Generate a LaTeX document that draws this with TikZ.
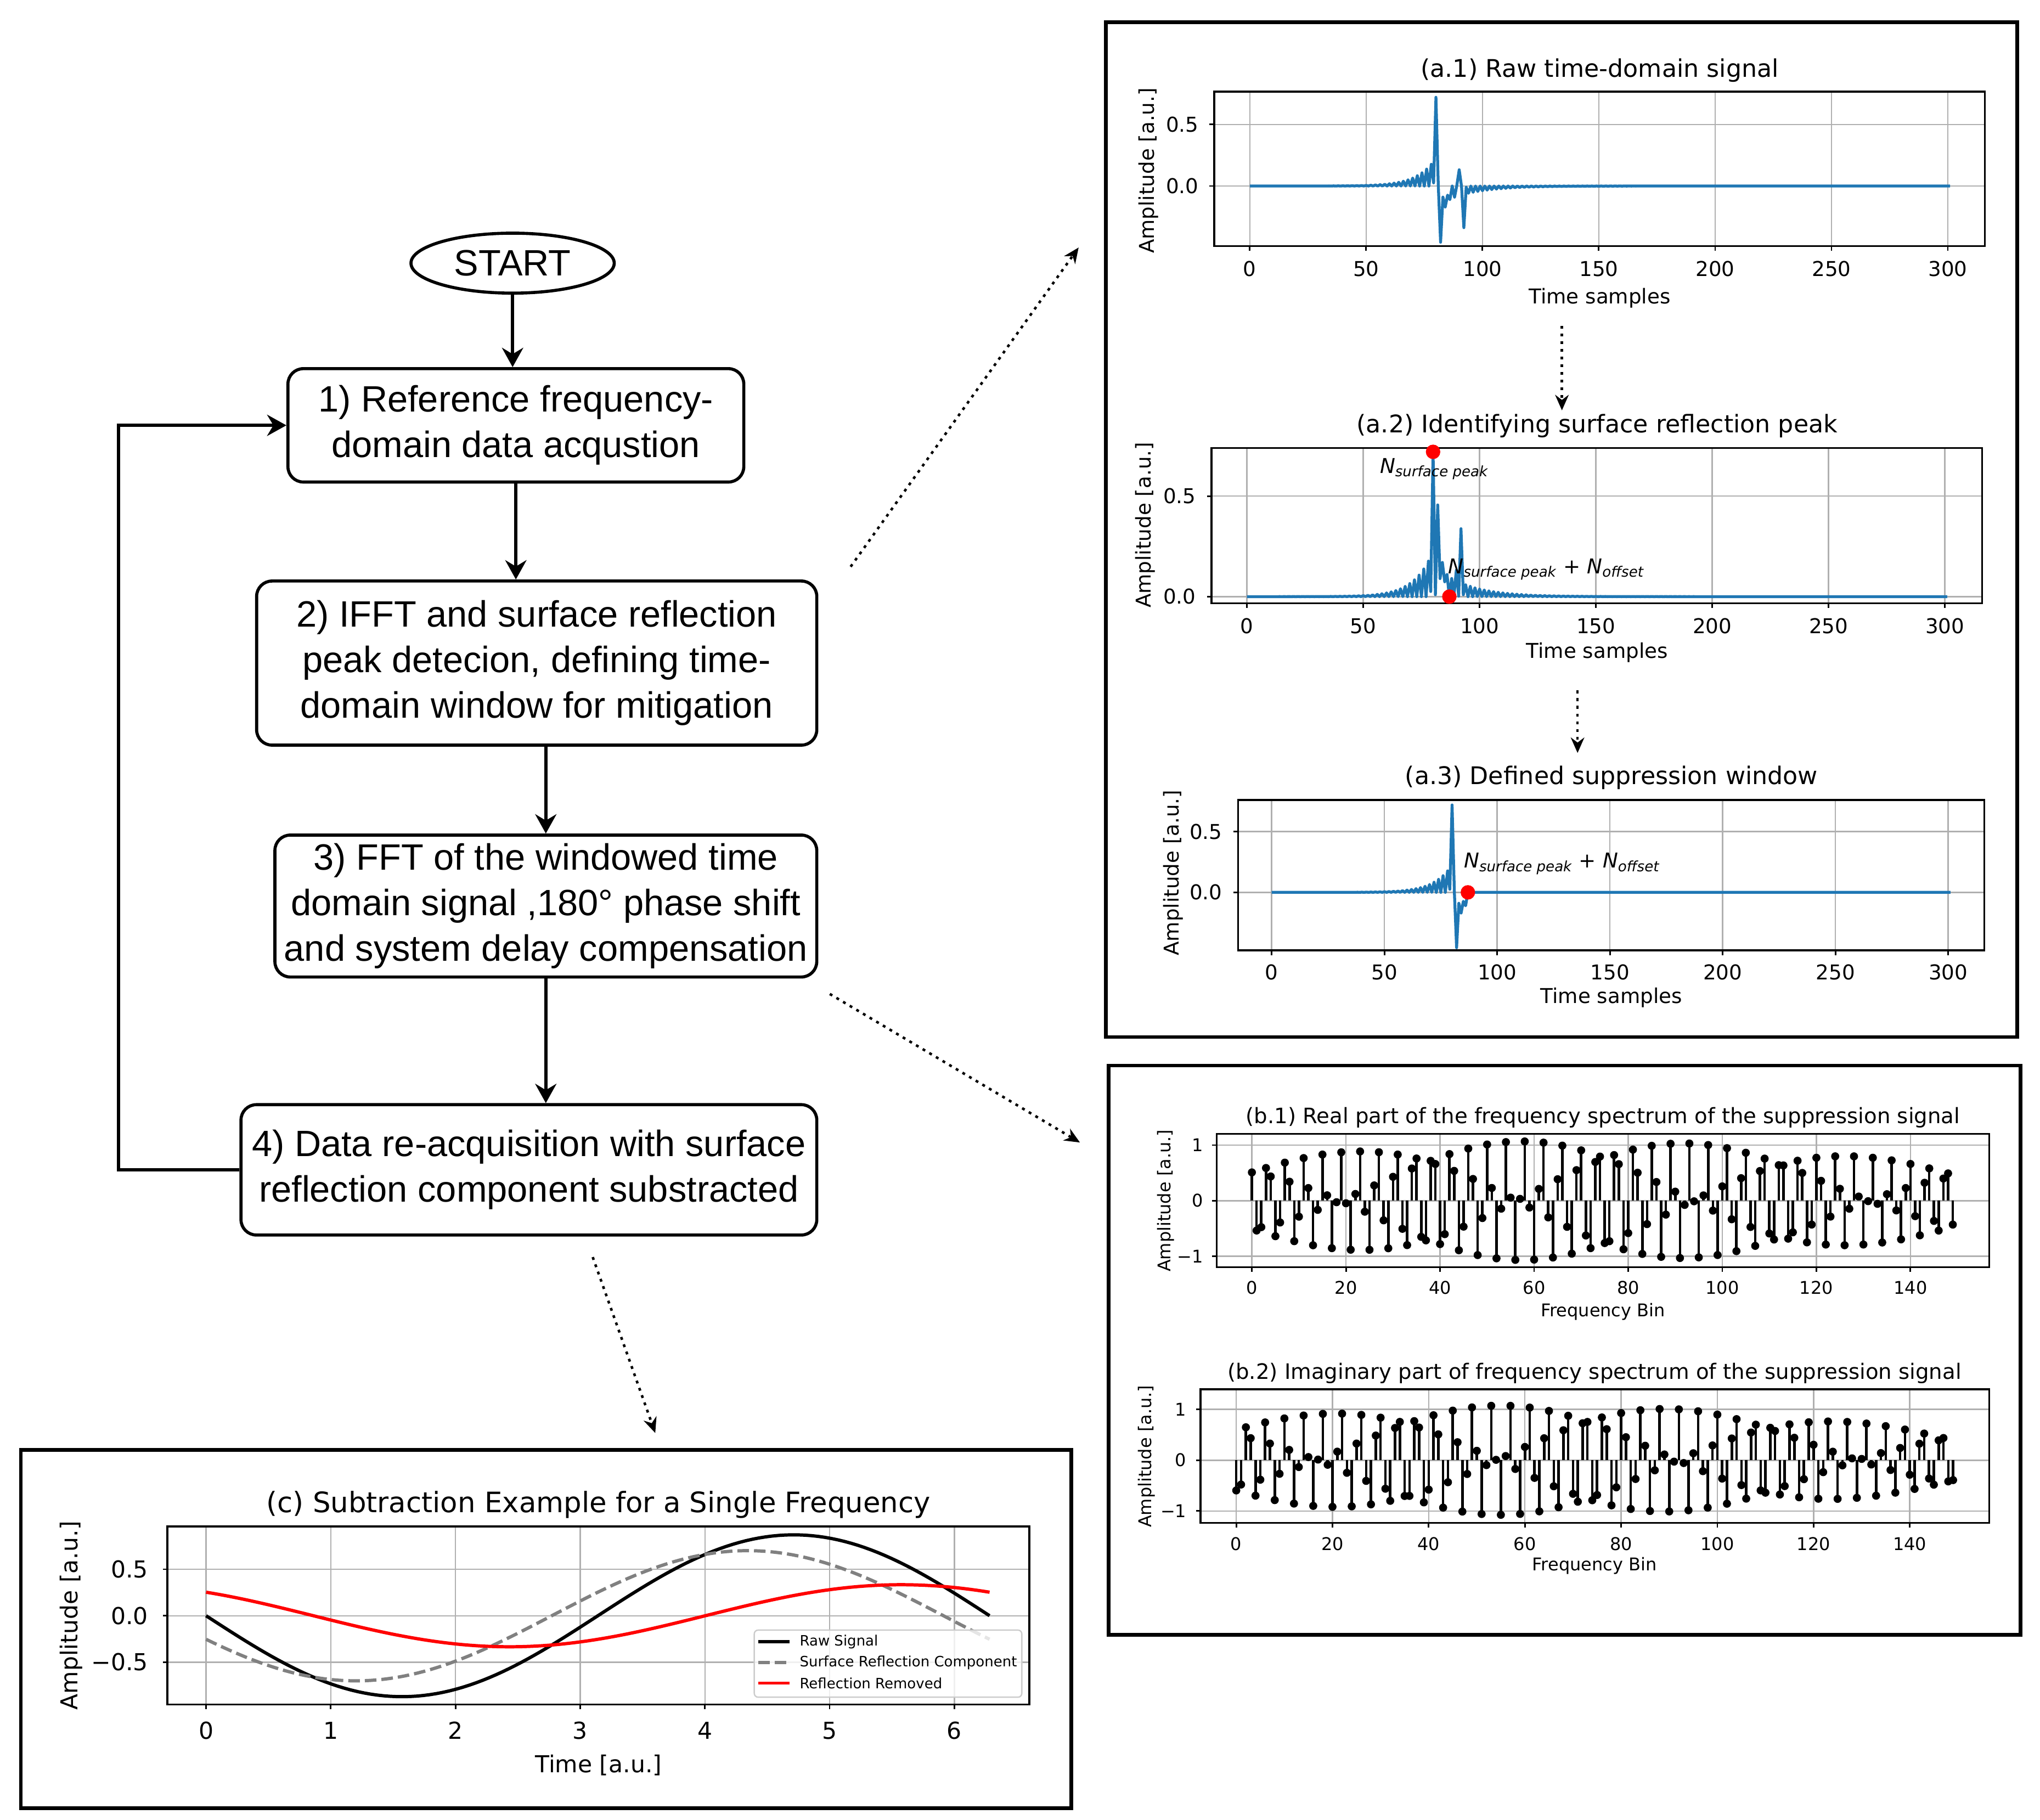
\documentclass[tikz,border=0pt]{standalone}
\usepackage{fontspec}
\setmainfont{Liberation Sans}
\newfontfamily\plotfont{DejaVu Sans}
\usetikzlibrary{arrows.meta,shapes.geometric}

\definecolor{mplblue}{HTML}{1F77B4}
\definecolor{mplgrid}{HTML}{B0B0B0}
\definecolor{legendedge}{HTML}{CCCCCC}

\newcommand{\flowfont}{\fontsize{19pt}{23.6pt}\selectfont}
\newcommand{\afont}{\plotfont\fontsize{10.6pt}{12.7pt}\selectfont}
\newcommand{\atitlefont}{\plotfont\fontsize{12.6pt}{15pt}\selectfont}
\newcommand{\bsmallfont}{\plotfont\fontsize{9.1pt}{11pt}\selectfont}
\newcommand{\btitlefont}{\plotfont\fontsize{11pt}{13pt}\selectfont}
\newcommand{\cfont}{\plotfont\fontsize{12.1pt}{14.5pt}\selectfont}
\newcommand{\ctitlefont}{\plotfont\fontsize{14.6pt}{17.5pt}\selectfont}
\newcommand{\legfont}{\plotfont\fontsize{7.4pt}{8.8pt}\selectfont}

\tikzset{
  flowbox/.style={draw, line width=1.6pt, rounded corners=8pt, align=center, inner sep=2pt, font=\flowfont},
  startnode/.style={draw, ellipse, line width=1.6pt, inner sep=0pt, minimum width=105.4pt, minimum height=31.1pt, font=\flowfont},
  flowarrow/.style={-{Stealth[length=10pt,width=11pt]}, line width=1.6pt},
  hintarrow/.style={-{Stealth[length=8pt,width=7pt]}, line width=1.3pt, dash pattern=on 1.5pt off 2.5pt},
  panelframe/.style={line width=1.9pt},
  axframe/.style={line width=1pt},
  gridline/.style={mplgrid, line width=0.7pt},
  tickmark/.style={line width=0.8pt},
  sigline/.style={mplblue, line width=1.5pt, line join=round},
  stem/.style={line width=1.3pt},
  stemdot/.style={circle, fill, inner sep=0pt, minimum size=4.2pt},
  peakdot/.style={circle, fill=red, inner sep=0pt, minimum size=7.5pt},
  alab/.style={font=\afont, inner sep=0pt},
  atitle/.style={font=\atitlefont, inner sep=0pt},
  blab/.style={font=\bsmallfont, inner sep=0pt},
  btitle/.style={font=\btitlefont, inner sep=0pt},
  clab/.style={font=\cfont, inner sep=0pt},
  ctitle/.style={font=\ctitlefont, inner sep=0pt},
  legtext/.style={font=\legfont, inner sep=0pt, anchor=west},
}

\begin{document}
\begin{tikzpicture}[x=0.02374cm, y=-0.02374cm,
  declare function={
    bump(\dist,\wid)=exp(-min(min(abs(\dist),6)^2/\wid,9));
    evn(\nn)=1-mod(round(\nn),2);
    pre(\nn)=0.2*exp(-min(max((79-\nn)/8,0),9))*evn(\nn);
    post(\nn)=-0.12*exp(-min(max((\nn-84)/14,0),9))*evn(\nn);
    sig(\nn)=0.72*bump(\nn-80,0.3)-0.45*bump(\nn-82,0.3)-0.17*bump(\nn-84,1.2)+0.21*bump(\nn-90,0.3)-0.27*bump(\nn-92,0.3)+(\nn<79.5)*pre(\nn)+(\nn>85.5)*post(\nn);
    rawsig(\tm)=-0.87*sin(deg(\tm));
    surfsig(\tm)=-0.7*sin(deg(\tm+0.37));
    envl(\kk)=0.72+0.36*sin(1.3*\kk);
    respec(\kk)=envl(\kk)*cos(92.4*\kk+45);
    imspec(\kk)=envl(\kk+7)*cos(92.4*\kk+140);
  }]
\fill[white] (0,0) rectangle (1566,1397);
\useasboundingbox (0,0) rectangle (1566,1397);

% flowchart
\node[startnode] (start) at (393.5,202) {START};
\node[flowbox, minimum width=236.4pt, minimum height=58.8pt] (refacq) at (396,326.5) {1) Reference frequency-\\domain data acqustion};
\node[flowbox, minimum width=290.5pt, minimum height=85.1pt] (ifft) at (412,509) {2) IFFT and surface reflection\\peak detecion, defining time-\\domain window for mitigation};
\node[flowbox, minimum width=281pt, minimum height=73.6pt] (fft) at (419,695.5) {3) FFT of the windowed time\\domain signal ,180° phase shift\\and system delay compensation};
\node[flowbox, minimum width=298.6pt, minimum height=67.6pt] (reacq) at (406,898) {4) Data re-acquisition with surface\\reflection component substracted};

\draw[flowarrow] (start.south) -- (start.south |- refacq.north);
\draw[flowarrow] (refacq.south) -- (refacq.south |- ifft.north);
\draw[flowarrow] (fft.north |- ifft.south) -- (fft.north);
\draw[flowarrow] (fft.south) -- (fft.south |- reacq.north);
\coordinate (loopx) at (91,0);
\draw[flowarrow] (reacq.west) -- (reacq.west -| loopx) |- (refacq.west);

% dotted hints to the panels
\coordinate (hintA0) at (653,435);
\coordinate (hintA1) at (828,190);
\coordinate (hintB0) at (637,763);
\coordinate (hintB1) at (829,877);
\coordinate (hintC0) at (455,965);
\coordinate (hintC1) at (503,1100);
\draw[hintarrow] (hintA0) -- (hintA1);
\draw[hintarrow] (hintB0) -- (hintB1);
\draw[hintarrow] (hintC0) -- (hintC1);

% panel frames
\draw[panelframe] (849,17) rectangle (1548.5,796);
\draw[panelframe] (851,818) rectangle (1551,1255);
\draw[panelframe] (16,1113) rectangle (822.5,1388);

% (a.1)
\node[atitle] (a1title) at (1228,54) {(a.1) Raw time-domain signal};
\foreach \t in {0,50,...,300}
  \draw[gridline] ({959.4+1.786*\t},70.3) -- ({959.4+1.786*\t},189);
\foreach \v in {0,0.5}
  \draw[gridline] (932,{142.8-94.6*\v}) -- (1523.7,{142.8-94.6*\v});
\draw[sigline] plot[domain=0:301, samples=302] ({959.4+1.786*\x},{142.8-94.6*sig(\x)});
\draw[axframe] (932,70.3) rectangle (1523.7,189);
\foreach \t in {0,50,...,300} {
  \draw[tickmark] ({959.4+1.786*\t},189) -- ++(0,3.5);
  \node[alab] (a1x\t) at ({959.4+1.786*\t},206.5) {\t};
}
\foreach \v/\l [count=\i] in {0/0.0,0.5/0.5} {
  \draw[tickmark] (932,{142.8-94.6*\v}) -- ++(-3.5,0);
  \node[alab, anchor=east] (a1y\i) at (920.4,{142.8-94.6*\v}) {\l};
}
\node[alab, rotate=90] (a1ylab) at (881.7,131) {Amplitude [a.u.]};
\node[alab] (a1xlab) at (1228,229) {Time samples};

\coordinate (stepA0) at (1199,250);
\coordinate (stepA1) at (1199,315);
\draw[hintarrow] (stepA0) -- (stepA1);

% (a.2)
\node[atitle] (a2title) at (1226,327) {(a.2) Identifying surface reflection peak};
\foreach \t in {0,50,...,300}
  \draw[gridline] ({957.2+1.786*\t},344) -- ({957.2+1.786*\t},463);
\foreach \v in {0,0.5}
  \draw[gridline] (930,{458-154.4*\v}) -- (1521.6,{458-154.4*\v});
\draw[sigline] plot[domain=0:301, samples=302] ({957.2+1.786*\x},{458-154.4*abs(sig(\x))});
\draw[axframe] (930,344) rectangle (1521.6,463);
\foreach \t in {0,50,...,300} {
  \draw[tickmark] ({957.2+1.786*\t},463) -- ++(0,3.5);
  \node[alab] (a2x\t) at ({957.2+1.786*\t},480.5) {\t};
}
\foreach \v/\l [count=\i] in {0/0.0,0.5/0.5} {
  \draw[tickmark] (930,{458-154.4*\v}) -- ++(-3.5,0);
  \node[alab, anchor=east] (a2y\i) at (918.3,{458-154.4*\v}) {\l};
}
\node[peakdot] (peakA2) at ({957.2+1.786*80},{458-154.4*abs(sig(80))}) {};
\node[peakdot] (offsetA2) at ({957.2+1.786*87},{458-154.4*abs(sig(87))}) {};
\node[alab] (peaklab) at (1101,360) {\itshape N\textsubscript{surface peak}};
\node[alab] (offlabA2) at (1187,437) {\itshape N\textsubscript{surface peak}\upshape{} + \itshape N\textsubscript{offset}};
\node[alab, rotate=90] (a2ylab) at (879,403) {Amplitude [a.u.]};
\node[alab] (a2xlab) at (1226,501) {Time samples};

\coordinate (stepB0) at (1211,530);
\coordinate (stepB1) at (1211,578);
\draw[hintarrow] (stepB0) -- (stepB1);

% (a.3)
\node[atitle] (a3title) at (1237,597) {(a.3) Defined suppression window};
\foreach \t in {0,50,...,300}
  \draw[gridline] ({976.2+1.731*\t},614) -- ({976.2+1.731*\t},729.6);
\foreach \v in {0,0.5}
  \draw[gridline] (950.5,{685-93.2*\v}) -- (1523.3,{685-93.2*\v});
\draw[sigline] plot[domain=0:301, samples=302] ({976.2+1.731*\x},{685-93.2*(\x<87.5)*sig(\x)});
\draw[axframe] (950.5,614) rectangle (1523.3,729.6);
\foreach \t in {0,50,...,300} {
  \draw[tickmark] ({976.2+1.731*\t},729.6) -- ++(0,3.5);
  \node[alab] (a3x\t) at ({976.2+1.731*\t},746.5) {\t};
}
\foreach \v/\l [count=\i] in {0/0.0,0.5/0.5} {
  \draw[tickmark] (950.5,{685-93.2*\v}) -- ++(-3.5,0);
  \node[alab, anchor=east] (a3y\i) at (938.5,{685-93.2*\v}) {\l};
}
\node[peakdot] (offsetA3) at ({976.2+1.731*87},685) {};
\node[alab] (offlabA3) at (1199,663) {\itshape N\textsubscript{surface peak}\upshape{} + \itshape N\textsubscript{offset}};
\node[alab, rotate=90] (a3ylab) at (900.6,670) {Amplitude [a.u.]};
\node[alab] (a3xlab) at (1237,766) {Time samples};

% (b.1)
\node[btitle] (b1title) at (1230.5,858) {(b.1) Real part of the frequency spectrum of the suppression signal};
\foreach \t in {0,20,...,140}
  \draw[gridline] ({961+3.611*\t},870.4) -- ({961+3.611*\t},972.8);
\foreach \v in {-1,0,1}
  \draw[gridline] (934,{921.7-42.7*\v}) -- (1527,{921.7-42.7*\v});
\foreach \k in {0,...,149}
  \draw[stem] ({961+3.611*\k},921.7) -- ({961+3.611*\k},{921.7-42.7*respec(\k)}) node[stemdot] (re\k) {};
\draw[axframe] (934,870.4) rectangle (1527,972.8);
\foreach \t in {0,20,...,140} {
  \draw[tickmark] ({961+3.611*\t},972.8) -- ++(0,3.5);
  \node[blab] (b1x\t) at ({961+3.611*\t},988.4) {\t};
}
\foreach \v/\l [count=\i] in {-1/−1,0/0,1/1} {
  \draw[tickmark] (934,{921.7-42.7*\v}) -- ++(-3.5,0);
  \node[blab, anchor=east] (b1y\i) at (924,{921.7-42.7*\v}) {\l};
}
\node[blab, rotate=90] (b1ylab) at (895,921.7) {Amplitude [a.u.]};
\node[blab] (b1xlab) at (1230.5,1007) {Frequency Bin};

% (b.2)
\node[btitle] (b2title) at (1224,1054) {(b.2) Imaginary part of frequency spectrum of the suppression signal};
\foreach \t in {0,20,...,140}
  \draw[gridline] ({949+3.693*\t},1066.4) -- ({949+3.693*\t},1169);
\foreach \v in {-1,0,1}
  \draw[gridline] (921.5,{1120.9-39*\v}) -- (1527,{1120.9-39*\v});
\foreach \k in {0,...,149}
  \draw[stem] ({949+3.693*\k},1120.9) -- ({949+3.693*\k},{1120.9-39*imspec(\k)}) node[stemdot] (im\k) {};
\draw[axframe] (921.5,1066.4) rectangle (1527,1169);
\foreach \t in {0,20,...,140} {
  \draw[tickmark] ({949+3.693*\t},1169) -- ++(0,3.5);
  \node[blab] (b2x\t) at ({949+3.693*\t},1185) {\t};
}
\foreach \v/\l [count=\i] in {-1/−1,0/0,1/1} {
  \draw[tickmark] (921.5,{1120.9-39*\v}) -- ++(-3.5,0);
  \node[blab, anchor=east] (b2y\i) at (911,{1120.9-39*\v}) {\l};
}
\node[blab, rotate=90] (b2ylab) at (880,1118) {Amplitude [a.u.]};
\node[blab] (b2xlab) at (1224,1202) {Frequency Bin};

% (c)
\node[ctitle] (ctitle) at (459.4,1155) {(c) Subtraction Example for a Single Frequency};
\foreach \t in {0,...,6}
  \draw[gridline] ({158.2+95.73*\t},1171.8) -- ({158.2+95.73*\t},1308.5);
\foreach \v in {-0.5,0,0.5}
  \draw[gridline] (128.5,{1240.3-71.4*\v}) -- (790.2,{1240.3-71.4*\v});
\draw[line width=1.7pt] plot[domain=0:6.2832, samples=120] ({158.2+95.73*\x},{1240.3-71.4*rawsig(\x)});
\draw[gray, line width=1.7pt, dash pattern=on 6pt off 2.6pt] plot[domain=0:6.2832, samples=120] ({158.2+95.73*\x},{1240.3-71.4*surfsig(\x)});
\draw[red, line width=1.7pt] plot[domain=0:6.2832, samples=120] ({158.2+95.73*\x},{1240.3-71.4*(rawsig(\x)-surfsig(\x))});
\draw[axframe] (128.5,1171.8) rectangle (790.2,1308.5);
\foreach \t in {0,...,6} {
  \draw[tickmark] ({158.2+95.73*\t},1308.5) -- ++(0,3.5);
  \node[clab] (cx\t) at ({158.2+95.73*\t},1328.5) {\t};
}
\foreach \v/\l [count=\i] in {-0.5/−0.5,0/0.0,0.5/0.5} {
  \draw[tickmark] (128.5,{1240.3-71.4*\v}) -- ++(-3.5,0);
  \node[clab, anchor=east] (cy\i) at (114,{1240.3-71.4*\v}) {\l};
}
\node[clab, rotate=90] (cylab) at (54.8,1240) {Amplitude [a.u.]};
\node[clab] (cxlab) at (459.4,1355) {Time [a.u.]};

% legend
\draw[legendedge, fill=white, fill opacity=0.8, line width=0.7pt, rounded corners=2pt] (579,1251.3) rectangle (784.4,1302.8);
\draw[line width=1.7pt] (582,1260.3) -- (606,1260.3);
\draw[gray, line width=1.7pt, dash pattern=on 6pt off 2.6pt] (582,1276.2) -- (606,1276.2);
\draw[red, line width=1.7pt] (582,1292) -- (606,1292);
\node[legtext] (legraw) at (613.6,1260.3) {Raw Signal};
\node[legtext] (legsurf) at (613.6,1276.2) {Surface Reflection Component};
\node[legtext] (legrem) at (613.6,1292) {Reflection Removed};
\end{tikzpicture}
\end{document}
